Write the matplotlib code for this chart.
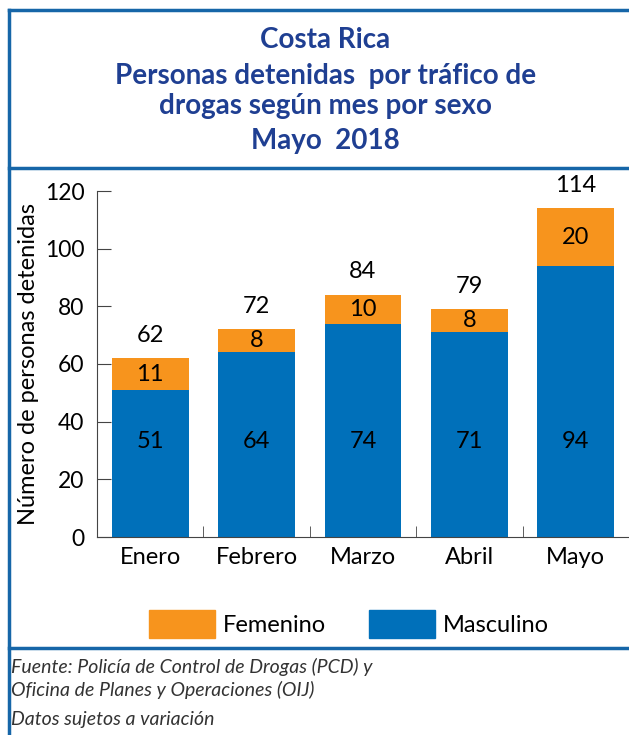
import numpy as np
import matplotlib.pyplot as plt
from matplotlib.lines import Line2D
from matplotlib.patches import Patch

meses = ['Enero', 'Febrero', 'Marzo', 'Abril', 'Mayo']
masculino = [51, 64, 74, 71, 94]
femenino = [11, 8, 10, 8, 20]
totales = [62, 72, 84, 79, 114]

AZUL = '#0070BA'
NARANJA = '#F7941D'
BORDE = '#1666A8'
TITULO = '#1F3F92'

plt.rcParams['font.family'] = ['Lato', 'DejaVu Sans']

fig = plt.figure(figsize=(6.29, 7.35), dpi=100)
ax = fig.add_axes([97/629, 1-537/735, 1-97/629, (537-191)/735])

x = np.arange(len(meses))
ax.bar(x, masculino, width=0.72, color=AZUL)
ax.bar(x, femenino, width=0.72, bottom=masculino, color=NARANJA)

for i in range(len(meses)):
    # en el original las etiquetas de masculino van todas a la misma altura
    ax.text(x[i], 33, str(masculino[i]), ha='center', va='center', fontsize=17)
    ax.text(x[i], masculino[i] + femenino[i]/2, str(femenino[i]), ha='center', va='center', fontsize=17)
    ax.text(x[i], totales[i] + 8, str(totales[i]), ha='center', va='center', fontsize=17)

ax.set_xlim(-0.5, len(meses) - 0.5)
ax.set_ylim(0, 120)
ax.set_yticks(range(0, 121, 20))
ax.tick_params(axis='y', direction='in', length=10, labelsize=16.5, pad=9, color='#444444')
ax.set_xticks(x)
ax.set_xticklabels(meses)
ax.set_xticks(x[:-1] + 0.5, minor=True)
ax.tick_params(axis='x', which='major', length=0, labelsize=17, pad=7)
ax.tick_params(axis='x', which='minor', direction='in', length=8, color='#444444')
for s in ['top', 'right']:
    ax.spines[s].set_visible(False)
for s in ['left', 'bottom']:
    ax.spines[s].set_color('#444444')
ax.set_ylabel('Número de personas detenidas', fontsize=17, labelpad=4)

handles = [Patch(color=NARANJA), Patch(color=AZUL)]
fig.legend(handles, ['Femenino', 'Masculino'], loc='center', bbox_to_anchor=(349/629, 1-624/735),
           ncol=2, frameon=False, fontsize=17, handlelength=2.8, handleheight=1.5,
           handletextpad=0.35, columnspacing=1.8)

# titulo
kw = dict(ha='center', va='center', fontsize=20, fontweight='bold', color=TITULO)
fig.text(0.517, 1-40/735, 'Costa Rica', **kw)
fig.text(0.517, 1-76/735, 'Personas detenidas  por tráfico de', **kw)
fig.text(0.517, 1-106/735, 'drogas según mes por sexo', **kw)
fig.text(0.517, 1-141/735, 'Mayo  2018', **kw)

# notas
nota = dict(ha='left', va='center', fontsize=14, style='italic', color='#333333')
fig.text(11/629, 1-667/735, 'Fuente: Policía de Control de Drogas (PCD) y', **nota)
fig.text(11/629, 1-690/735, 'Oficina de Planes y Operaciones (OIJ)', **nota)
fig.text(11/629, 1-720/735, 'Datos sujetos a variación', **nota)

# marco
for y in [10, 168, 648]:
    fig.add_artist(Line2D([9/629, 1], [1-y/735, 1-y/735], color=BORDE, lw=2.5))
fig.add_artist(Line2D([9/629, 9/629], [1-10/735, 0], color=BORDE, lw=2.5))

fig.savefig('out.png', dpi=100)
